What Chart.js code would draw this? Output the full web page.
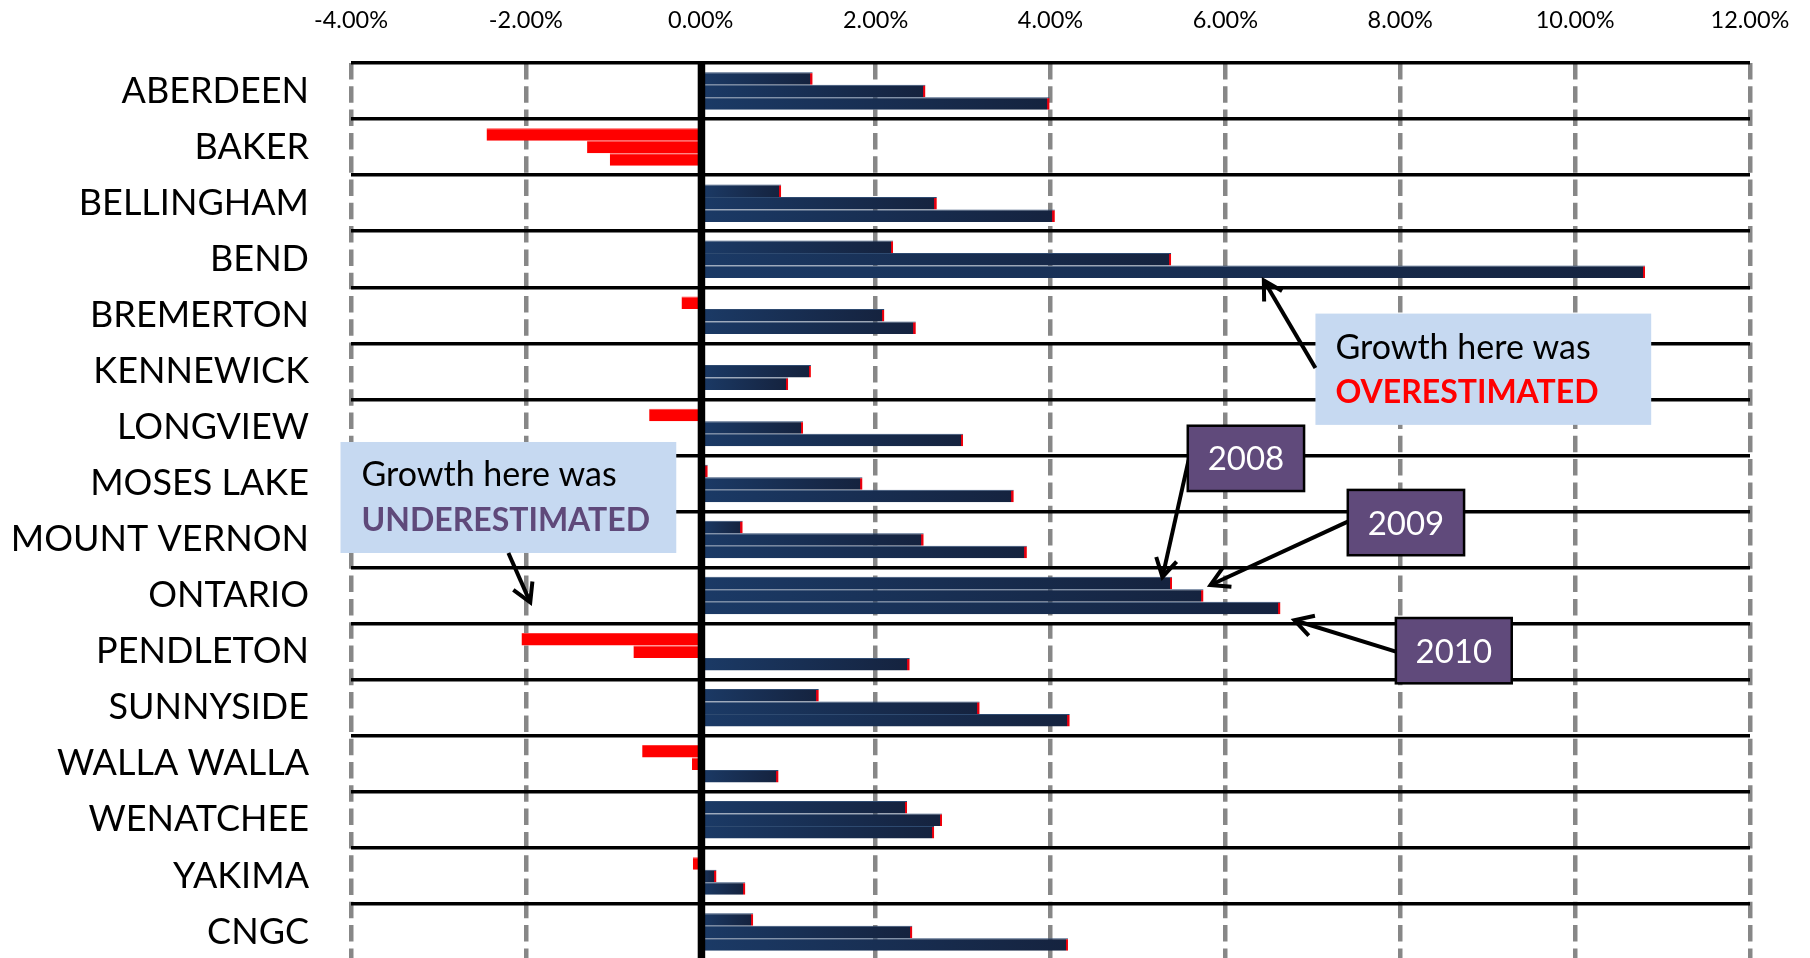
<!DOCTYPE html>
<html>
<head>
<meta charset="utf-8">
<script src="https://cdn.jsdelivr.net/npm/chart.js@4.4.1/dist/chart.umd.min.js"></script>
<style>
  html, body { margin: 0; padding: 0; background: #ffffff; overflow: hidden; }
  #wrap { width: 1810px; height: 960px; }
</style>
</head>
<body>
<div id="wrap"><canvas id="growth" width="1810" height="960"></canvas></div>
<script>
// Annual employment growth by area, 2008-2010 (percent)
const cities = ['ABERDEEN', 'BAKER', 'BELLINGHAM', 'BEND', 'BREMERTON', 'KENNEWICK', 'LONGVIEW',
  'MOSES LAKE', 'MOUNT VERNON', 'ONTARIO', 'PENDLETON', 'SUNNYSIDE', 'WALLA WALLA', 'WENATCHEE',
  'YAKIMA', 'CNGC'];
const years = ['2008', '2009', '2010'];
const growth2008 = [1.28, -2.45, 0.92, 2.20, -0.22, 0.00, -0.59, 0.08, 0.48, 5.39, -2.05, 1.35, -0.67, 2.36, -0.09, 0.60];
const growth2009 = [2.57, -1.30, 2.70, 5.38, 2.10, 1.26, 1.17, 1.85, 2.55, 5.75, -0.77, 3.19, -0.10, 2.76, 0.18, 2.42];
const growth2010 = [3.99, -1.04, 4.05, 10.80, 2.46, 1.00, 3.00, 3.58, 3.73, 6.63, 2.39, 4.22, 0.89, 2.67, 0.51, 4.20];
const axisTicks = [-4, -2, 0, 2, 4, 6, 8, 10, 12];

const FONT = 'Lato, "Open Sans", "Noto Sans", sans-serif';

// Call-out boxes, placed in axis units: x in percent, y in rows counted from the top edge
const noteBoxes = [
  { x0: 7.03, x1: 10.87, r0: 4.47, r1: 6.455, fill: '#c6d9f1',
    textX: 20, lines: [
      { text: 'Growth here was', font: '400 34px ', color: '#000000', dy: 45 },
      { text: 'OVERESTIMATED', font: '700 32px ', color: '#ff0000', dy: 89 }] },
  { x0: -4.12, x1: -0.28, r0: 6.76, r1: 8.74, fill: '#c6d9f1',
    textX: 21, lines: [
      { text: 'Growth here was', font: '400 34px ', color: '#000000', dy: 44 },
      { text: 'UNDERESTIMATED', font: '700 32px ', color: '#5f497a', dy: 89 }] }
];
const yearBoxes = [
  { label: '2008', x0: 5.57, x1: 6.90, r0: 6.47, r1: 7.635 },
  { label: '2009', x0: 7.40, x1: 8.73, r0: 7.615, r1: 8.78 },
  { label: '2010', x0: 7.95, x1: 9.275, r0: 9.90, r1: 11.065 }
];
const arrows = [
  { from: [7.03, 5.44], to: [6.44, 3.88] },
  { from: [-2.20, 8.74], to: [-1.95, 9.62] },
  { from: [5.58, 7.08], to: [5.28, 9.17] },
  { from: [7.40, 8.18], to: [5.83, 9.31] },
  { from: [7.95, 10.50], to: [6.79, 9.94] }
];

// Positive bars: navy gradient ending in a thin red tip; negative bars: solid red
function barFill(c) {
  const v = c.raw;
  if (typeof v !== 'number') return '#172d52';
  if (v < 0) return '#ff0000';
  const chart = c.chart, xs = chart.scales && chart.scales.x;
  if (!xs || !chart.chartArea) return '#172d52';
  const p0 = xs.getPixelForValue(0), p1 = xs.getPixelForValue(v);
  const len = p1 - p0;
  if (!(len > 4)) return '#172d52';
  const g = chart.ctx.createLinearGradient(p0, 0, p1, 0);
  const t = 1 - 2.4 / len;
  g.addColorStop(0, '#1b3a66');
  g.addColorStop(t, '#15233f');
  g.addColorStop(t, '#d0001a');
  g.addColorStop(1, '#ff0000');
  return g;
}
function barEdge(c) {
  return (typeof c.raw === 'number' && c.raw < 0) ? '#ff3a3a' : '#2e4a70';
}

function rowY(chart, r) {
  const a = chart.chartArea;
  return a.top + r * (a.bottom - a.top) / cities.length;
}

const zeroLine = {
  id: 'zeroLine',
  afterDatasetsDraw(chart) {
    const { ctx, chartArea: a, scales: { x } } = chart;
    const px = x.getPixelForValue(0);
    ctx.save();
    ctx.strokeStyle = '#000000';
    ctx.lineWidth = 7.5;
    ctx.beginPath();
    ctx.moveTo(px + 0.7, a.top - 2);
    ctx.lineTo(px + 0.7, a.bottom);
    ctx.stroke();
    ctx.restore();
  }
};

function drawArrow(ctx, x1, y1, x2, y2) {
  const ang = Math.atan2(y2 - y1, x2 - x1), L = 21, w = 0.52;
  ctx.beginPath();
  ctx.moveTo(x1, y1);
  ctx.lineTo(x2, y2);
  ctx.stroke();
  ctx.beginPath();
  ctx.moveTo(x2 - L * Math.cos(ang - w), y2 - L * Math.sin(ang - w));
  ctx.lineTo(x2, y2);
  ctx.lineTo(x2 - L * Math.cos(ang + w), y2 - L * Math.sin(ang + w));
  ctx.stroke();
}

const callouts = {
  id: 'callouts',
  afterDraw(chart) {
    const { ctx, scales: { x } } = chart;
    ctx.save();
    noteBoxes.forEach(b => {
      const left = x.getPixelForValue(b.x0), right = x.getPixelForValue(b.x1);
      const top = rowY(chart, b.r0), bottom = rowY(chart, b.r1);
      ctx.fillStyle = b.fill;
      ctx.fillRect(left, top, right - left, bottom - top);
      ctx.textAlign = 'left';
      ctx.textBaseline = 'alphabetic';
      b.lines.forEach(l => {
        ctx.font = l.font + FONT;
        ctx.fillStyle = l.color;
        ctx.fillText(l.text, left + b.textX, top + l.dy);
      });
    });
    ctx.strokeStyle = '#000000';
    ctx.lineWidth = 4;
    ctx.lineCap = 'butt';
    ctx.lineJoin = 'miter';
    arrows.forEach(a => {
      drawArrow(ctx, x.getPixelForValue(a.from[0]), rowY(chart, a.from[1]),
        x.getPixelForValue(a.to[0]), rowY(chart, a.to[1]));
    });
    yearBoxes.forEach(b => {
      const left = x.getPixelForValue(b.x0), right = x.getPixelForValue(b.x1);
      const top = rowY(chart, b.r0), bottom = rowY(chart, b.r1);
      ctx.fillStyle = '#604a7b';
      ctx.fillRect(left, top, right - left, bottom - top);
      ctx.lineWidth = 2.5;
      ctx.strokeStyle = '#000000';
      ctx.strokeRect(left, top, right - left, bottom - top);
      ctx.font = '400 33px ' + FONT;
      ctx.fillStyle = '#ffffff';
      ctx.textAlign = 'center';
      ctx.textBaseline = 'alphabetic';
      ctx.fillText(b.label, (left + right) / 2, (top + bottom) / 2 + 12);
    });
    ctx.restore();
  }
};

function build() {
  new Chart(document.getElementById('growth'), {
    type: 'bar',
    data: {
      labels: cities,
      datasets: [growth2008, growth2009, growth2010].map((vals, i) => ({
        label: years[i],
        data: vals,
        backgroundColor: barFill,
        borderColor: barEdge,
        borderWidth: { top: 1, right: 0, bottom: 0, left: 0 },
        borderSkipped: 'start',
        categoryPercentage: 0.67,
        barPercentage: 1.0
      }))
    },
    options: {
      indexAxis: 'y',
      responsive: false,
      devicePixelRatio: 1,
      animation: false,
      layout: { padding: { left: 0, top: 0, right: 60, bottom: 0 } },
      plugins: { legend: { display: false }, tooltip: { enabled: false } },
      scales: {
        x: {
          type: 'linear',
          position: 'top',
          min: -4,
          max: 12,
          afterBuildTicks: s => { s.ticks = axisTicks.map(v => ({ value: v })); },
          afterFit: s => { s.height = 63; s.paddingLeft = 0; s.paddingRight = 0; },
          ticks: {
            callback: v => v.toFixed(2) + '%',
            font: { family: FONT, size: 23.5 },
            color: '#000000',
            padding: 28,
            maxRotation: 0,
            autoSkip: false
          },
          grid: { color: '#878787', lineWidth: 4.5, drawTicks: false, z: -1 },
          border: { display: false, dash: [16.5, 6.8] }
        },
        y: {
          type: 'category',
          afterFit: s => { s.width = 351; s.paddingTop = 0; s.paddingBottom = 0; },
          ticks: {
            font: { family: FONT, size: 36 },
            color: '#000000',
            padding: 42,
            autoSkip: false
          },
          grid: { color: '#000000', lineWidth: 3.5, drawTicks: false, offset: true },
          border: { display: false }
        }
      }
    },
    plugins: [zeroLine, callouts]
  });
}

Promise.all([
  document.fonts.load('23px Lato'),
  document.fonts.load('36px Lato'),
  document.fonts.load('bold 32px Lato')
]).catch(() => {}).then(build);
</script>
</body>
</html>
